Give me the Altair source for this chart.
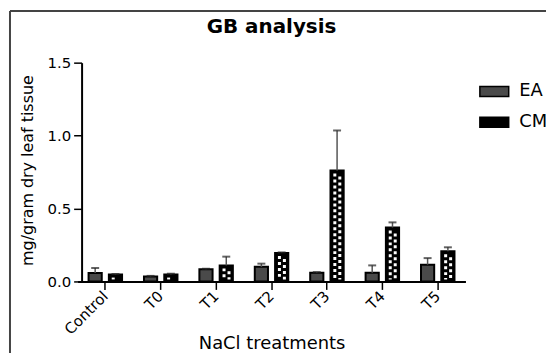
import altair as alt
import pandas as pd

treatments = ["Control", "T0", "T1", "T2", "T3", "T4", "T5"]
series = ["EA", "CM"]
ea_mean = [0.058, 0.034, 0.083, 0.100, 0.060, 0.060, 0.115]
ea_err = [0.034, 0.004, 0.004, 0.022, 0.004, 0.050, 0.045]
cm_mean = [0.047, 0.047, 0.110, 0.195, 0.760, 0.370, 0.207]
cm_err = [0.004, 0.006, 0.060, 0.004, 0.275, 0.035, 0.027]
y_ticks = [0.0, 0.5, 1.0, 1.5]

rows = []
for i, t in enumerate(treatments):
    rows.append(dict(treatment=t, series="EA", mean=ea_mean[i], err=ea_err[i]))
    rows.append(dict(treatment=t, series="CM", mean=cm_mean[i], err=cm_err[i]))
df = pd.DataFrame(rows)
df["top"] = df["mean"] + df["err"]

FONT = "DejaVu Sans"

x_enc = alt.X(
    "treatment:N",
    sort=treatments,
    scale=alt.Scale(paddingInner=0, paddingOuter=0),
    axis=alt.Axis(
        title="NaCl treatments",
        labelAngle=-45,
        labelAlign="right",
        labelBaseline="middle",
        labelFontSize=15,
        labelPadding=4,
        labelColor="black",
        tickSize=8,
        tickWidth=1.5,
        tickColor="black",
        domainColor="black",
        domainWidth=2,
        titleFontSize=18,
        titleFontWeight="normal",
        titleColor="black",
        titleX=195,
        titleY=67,
        titleBaseline="alphabetic",
        titleAlign="center",
    ),
)
x_plain = alt.X("treatment:N", sort=treatments)
xo_enc = alt.XOffset(
    "series:N",
    sort=series,
    scale=alt.Scale(domain=series, paddingInner=0.35, paddingOuter=0.54),
)
xo_dash = alt.XOffset(
    "col:N",
    scale=alt.Scale(domain=["L", "R"], range=[33.3, 43.3], paddingInner=0, paddingOuter=0),
)
y_scale = alt.Scale(domain=[0, 1.5], nice=False)
y_enc = alt.Y(
    "mean:Q",
    scale=y_scale,
    axis=alt.Axis(
        title="mg/gram dry leaf tissue",
        values=y_ticks,
        format=".1f",
        grid=False,
        offset=-4,
        labelFontSize=15,
        labelPadding=3,
        labelColor="black",
        tickSize=8,
        tickWidth=1.5,
        tickColor="black",
        domainColor="black",
        domainWidth=2,
        titleFontSize=16,
        titleFontWeight="normal",
        titleColor="black",
        titleAngle=-90,
        titleX=-49,
        titleY=108,
        titleBaseline="alphabetic",
        titleAlign="center",
    ),
)

base = alt.Chart(df)

bars = base.mark_bar(stroke="black", strokeWidth=2).encode(
    x=x_enc,
    xOffset=xo_enc,
    y=y_enc,
    fill=alt.Fill(
        "series:N",
        sort=series,
        scale=alt.Scale(domain=series, range=["#4a4a4a", "#000000"]),
        legend=alt.Legend(
            orient="none",
            legendX=408,
            legendY=18,
            title=None,
            symbolType="M-1.45,-0.5H1.45V0.5H-1.45Z",
            symbolSize=400,
            symbolStrokeColor="black",
            symbolStrokeWidth=1.5,
            labelFontSize=18,
            labelColor="black",
            labelOffset=14,
            rowPadding=11,
        ),
    ),
)

cm_only = base.transform_filter(alt.datum.series == "CM")
dash1 = cm_only.transform_calculate(col="'L'").mark_rule(
    color="white", strokeWidth=3, strokeDash=[3, 3], yOffset=3, y2Offset=-2
).encode(x=x_plain, xOffset=xo_dash, y="mean:Q", y2=alt.datum(0))
dash2 = cm_only.transform_calculate(col="'R'").mark_rule(
    color="white", strokeWidth=3, strokeDash=[3, 3], strokeDashOffset=3,
    yOffset=3, y2Offset=-2
).encode(x=x_plain, xOffset=xo_dash, y="mean:Q", y2=alt.datum(0))

stems = base.mark_rule(color="#555555", strokeWidth=1.5).encode(
    x=x_plain, xOffset=xo_enc, y="mean:Q", y2="top:Q"
)
caps = base.mark_tick(color="#222222", thickness=2, size=8).encode(
    x=x_plain, xOffset=xo_enc, y=alt.Y("top:Q")
)

frame_src = alt.Chart(pd.DataFrame({"k": [0]}))
frame_top = frame_src.mark_rule(color="#444444", strokeWidth=2).encode(
    x=alt.value(-68), x2=alt.value(480), y=alt.value(-52)
)
frame_left = frame_src.mark_rule(color="#444444", strokeWidth=2).encode(
    x=alt.value(-68), y=alt.value(-52), y2=alt.value(300)
)

chart = (
    alt.layer(bars, dash1, dash2, stems, caps, frame_top, frame_left)
    .resolve_scale(xOffset="independent")
    .properties(
        width=390,
        height=220,
        title=alt.Title(
            "GB analysis",
            fontSize=20,
            fontWeight="bold",
            anchor="middle",
            frame="group",
            offset=-43,
            baseline="alphabetic",
            color="black",
        ),
        autosize=alt.AutoSizeParams(type="none"),
        padding={"left": 70, "top": 54, "right": 81, "bottom": 71},
    )
    .configure(font=FONT, background="white")
    .configure_view(strokeWidth=0)
)

chart.save("out.html", embed_options={"renderer": "svg", "actions": False})
